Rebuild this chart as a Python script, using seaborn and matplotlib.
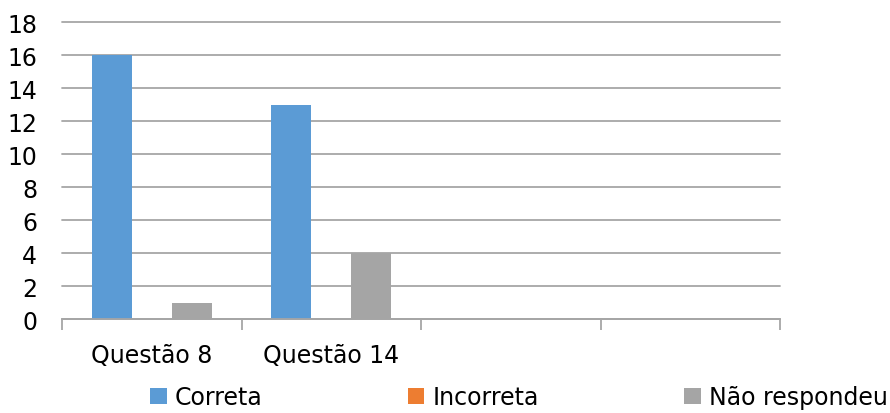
import pandas as pd
import numpy as np
import seaborn as sns
import matplotlib.pyplot as plt
from matplotlib.ticker import FixedLocator

questoes = ["Questão 8", "Questão 14", "", " "]
series = ["Correta", "Incorreta", "Não respondeu"]
correta = [16, 13, 0, 0]
incorreta = [0, 0, 0, 0]
nao_respondeu = [1, 4, 0, 0]
cores = ["#5B9BD5", "#ED7D31", "#A5A5A5"]

df = pd.DataFrame({
    "questao": questoes * 3,
    "resposta": [series[0]] * 4 + [series[1]] * 4 + [series[2]] * 4,
    "valor": correta + incorreta + nao_respondeu,
})

sns.set_style("white")
plt.rcParams['font.family'] = ['DejaVu Sans']
plt.rcParams['text.color'] = 'black'
plt.rcParams['xtick.color'] = 'black'
plt.rcParams['ytick.color'] = 'black'

fig = plt.figure(figsize=(8.9, 4.14), dpi=100)
ax = fig.add_axes([0.0697, 0.227, 0.8067, 0.717])

sns.barplot(data=df, x="questao", y="valor", hue="resposta", order=questoes,
            hue_order=series, palette=cores, saturation=1, width=0.667,
            linewidth=0, ax=ax, legend=True)

ax.set_ylim(0, 18)
ax.set_yticks(range(0, 19, 2))
ax.set_xlim(-0.5, 3.5)
ax.yaxis.grid(True, color="#A6A6A6", linewidth=1.3)
for gl in ax.get_ygridlines():
    gl.set_clip_on(False)
ax.set_axisbelow(True)
for s in ["top", "right", "left"]:
    ax.spines[s].set_visible(False)
ax.spines["bottom"].set_color("#A6A6A6")
ax.spines["bottom"].set_linewidth(1.3)
ax.tick_params(axis="y", length=0, labelsize=17, pad=18, labelcolor="black")
ax.tick_params(axis="x", which="major", bottom=False, labelsize=17, pad=14,
               labelcolor="black")
ax.xaxis.set_minor_locator(FixedLocator(np.arange(-0.5, 4, 1)))
ax.tick_params(axis="x", which="minor", bottom=True, length=8, width=1.3,
               color="#A6A6A6")
ax.set_xlabel("")
ax.set_ylabel("")

ax.legend_.remove()
handles, labels = ax.get_legend_handles_labels()
fig.legend(handles, labels, loc="lower center", bbox_to_anchor=(0.583, -0.042),
           ncol=3, frameon=False, fontsize=17, handlelength=0.7,
           handleheight=0.7, handletextpad=0.35, columnspacing=6.15)

fig.savefig("out.png", dpi=100)
